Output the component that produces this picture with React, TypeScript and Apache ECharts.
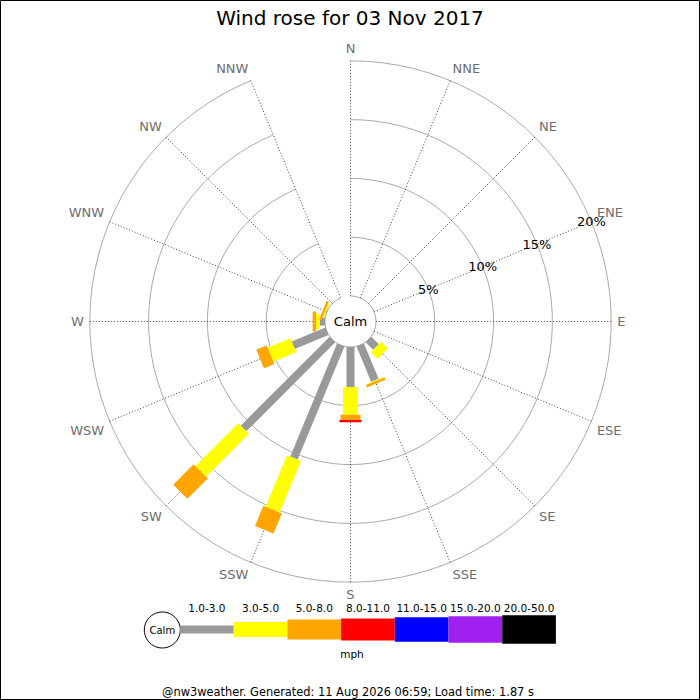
import { useRef, useEffect } from 'react'
import * as echarts from 'echarts'

// compass directions, clockwise from N
const directions = ['N', 'NNE', 'NE', 'ENE', 'E', 'ESE', 'SE', 'SSE', 'S', 'SSW', 'SW', 'WSW', 'W', 'WNW', 'NW', 'NNW'];
const speedBins = ['1.0-3.0', '3.0-5.0', '5.0-8.0', '8.0-11.0', '11.0-15.0', '15.0-20.0', '20.0-50.0'];
const binColors = ['#999999', '#ffff00', '#ffa500', '#ff0000', '#0000ff', '#a020f0', '#000000'];

// % of time per direction (N..NNW) for each speed bin
const pct1to3 = [0, 0, 0, 0, 0, 0, 0.9, 3.25, 3.4, 10.4, 10.7, 3.1, 0.45, 0.05, 0, 0];
const pct3to5 = [0, 0, 0, 0, 0, 0, 0.8, 0.08, 2.35, 4.75, 5.15, 2.1, 0.3, 0.12, 0, 0];
const pct5to8 = [0, 0, 0, 0, 0, 0, 0, 0.22, 0.45, 1.85, 2.45, 0.95, 0.3, 0.2, 0, 0];
const pct8to11 = [0, 0, 0, 0, 0, 0, 0, 0, 0.2, 0, 0, 0, 0, 0, 0, 0];
const pct11to15 = [0, 0, 0, 0, 0, 0, 0, 0, 0, 0, 0, 0, 0, 0, 0, 0];
const pct15to20 = [0, 0, 0, 0, 0, 0, 0, 0, 0, 0, 0, 0, 0, 0, 0, 0];
const pct20to50 = [0, 0, 0, 0, 0, 0, 0, 0, 0, 0, 0, 0, 0, 0, 0, 0];
const binValues = [pct1to3, pct3to5, pct5to8, pct8to11, pct11to15, pct15to20, pct20to50];

const radiusMax = 20;
const radiusStep = 5;

const FONT = 'DejaVu Sans';
const barWidths = [8, 15, 20, 22, 24.5, 26.5, 28.5];

function App() {
  const chartRef = useRef<HTMLDivElement>(null);

  useEffect(() => {
    if (!chartRef.current) return;
    const chart = echarts.init(chartRef.current, null, { renderer: 'svg' });
    const cx = 350.5, cy = 321.5;
    const inner = 25.5, outer = 260.7;

    const series = binValues.map((vals, b) => {
      const data: number[][] = [];
      directions.forEach((_, d) => {
        if (vals[d] <= 0) return;
        let start = 0;
        for (let k = 0; k < b; k++) start += binValues[k][d];
        data.push([d, start, start + vals[d]]);
      });
      const w = barWidths[b];
      return {
        type: 'custom',
        name: speedBins[b],
        coordinateSystem: 'polar',
        polarIndex: 0,
        encode: { angle: 0, radius: 2 },
        renderItem: (_params: any, api: any) => {
          const dir = api.value(0);
          const p0 = api.coord([api.value(1), dir]);
          const p1 = api.coord([api.value(2), dir]);
          const a = api.coord([0, dir]);
          const z = api.coord([radiusMax, dir]);
          let ux = z[0] - a[0], uy = z[1] - a[1];
          const len = Math.hypot(ux, uy);
          ux /= len; uy /= len;
          const nx = -uy * w / 2, ny = ux * w / 2;
          return {
            type: 'polygon',
            shape: {
              points: [
                [p0[0] + nx, p0[1] + ny],
                [p1[0] + nx, p1[1] + ny],
                [p1[0] - nx, p1[1] - ny],
                [p0[0] - nx, p0[1] - ny]
              ]
            },
            style: { fill: binColors[b] }
          };
        },
        data
      };
    });

    // legend drawn as graphic elements
    const legX0 = 180, legW = 53.7, legY = 629.5;
    const legend: any[] = [
      {
        type: 'circle', shape: { cx: 162.3, cy: 630, r: 18 },
        style: { fill: '#fff', stroke: '#000', lineWidth: 1 }
      },
      {
        type: 'text', x: 162.3, y: 630,
        style: { text: 'Calm', font: `10px "${FONT}"`, fill: '#000', align: 'center', verticalAlign: 'middle', textAlign: 'center', textVerticalAlign: 'middle' }
      }
    ];
    speedBins.forEach((label, b) => {
      const h = barWidths[b];
      legend.push({
        type: 'rect',
        shape: { x: legX0 + b * legW, y: legY - h / 2, width: legW, height: h },
        style: { fill: binColors[b] }
      });
      legend.push({
        type: 'text', x: legX0 + b * legW + legW / 2, y: 607.5,
        style: { text: label, font: `10.5px "${FONT}"`, fill: '#000', align: 'center', verticalAlign: 'middle', textAlign: 'center', textVerticalAlign: 'middle' }
      });
    });
    legend.push({
      type: 'text', x: 352, y: 654,
      style: { text: 'mph', font: `10.5px "${FONT}"`, fill: '#000', align: 'center', verticalAlign: 'middle', textAlign: 'center', textVerticalAlign: 'middle' }
    });

    const option = {
      animation: false,
      backgroundColor: '#fff',
      textStyle: { fontFamily: FONT },
      title: {
        text: 'Wind rose for 03 Nov 2017',
        left: 'center',
        top: 3,
        textStyle: { fontFamily: FONT, fontSize: 20, fontWeight: 'normal', color: '#000' }
      },
      polar: [
        { center: [cx, cy], radius: [inner, outer] },
        { center: [cx, cy], radius: [inner, outer] }
      ],
      angleAxis: [
        {
          polarIndex: 0,
          type: 'category',
          data: directions,
          boundaryGap: false,
          startAngle: 90,
          clockwise: true,
          axisLine: { show: false },
          axisTick: { show: false },
          axisLabel: { interval: 0, margin: 6, color: '#6e6e6e', fontSize: 13, fontFamily: FONT },
          splitLine: { show: true, interval: 0, lineStyle: { color: '#444', width: 1, type: [1, 2] } }
        },
        {
          polarIndex: 1,
          type: 'value',
          min: 0,
          max: 360,
          startAngle: 22.5,
          show: false
        }
      ],
      radiusAxis: [
        {
          polarIndex: 0,
          type: 'value',
          min: 0,
          max: radiusMax,
          interval: radiusStep,
          axisLine: { show: false },
          axisTick: { show: false },
          axisLabel: { show: false },
          splitLine: { show: true, lineStyle: { color: '#aaaaaa', width: 1 } }
        },
        {
          polarIndex: 1,
          type: 'value',
          min: 0,
          max: radiusMax,
          interval: radiusStep,
          z: 10,
          axisLine: { show: false },
          axisTick: { show: false },
          splitLine: { show: false },
          axisLabel: {
            margin: 0,
            align: 'center',
            verticalAlign: 'middle',
            color: '#000',
            fontSize: 13,
            fontFamily: FONT,
            formatter: (v: number) => (v === 0 ? '' : v + '%')
          }
        }
      ],
      graphic: [
        {
          type: 'rect', shape: { x: 0.5, y: 0.5, width: 699, height: 699 },
          style: { fill: 'none', stroke: '#000', lineWidth: 1 }, z: 100
        },
        {
          type: 'text', x: cx, y: cy, z: 100,
          style: { text: 'Calm', font: `13px "${FONT}"`, fill: '#000', align: 'center', verticalAlign: 'middle', textAlign: 'center', textVerticalAlign: 'middle' }
        },
        ...legend,
        {
          type: 'text', x: 348, y: 691.5,
          style: { text: '@nw3weather. Generated: 11 Aug 2026 06:59; Load time: 1.87 s', font: `11.4px "${FONT}"`, fill: '#000', align: 'center', verticalAlign: 'middle', textAlign: 'center', textVerticalAlign: 'middle' }
        }
      ],
      series
    };
    chart.setOption(option as any);

    return () => {
      chart.dispose();
    };
  }, []);

  return (
    <div ref={chartRef} style={{ position: 'absolute', left: 0, top: 0, width: '700px', height: '700px' }}></div>
  )
}

export default App
